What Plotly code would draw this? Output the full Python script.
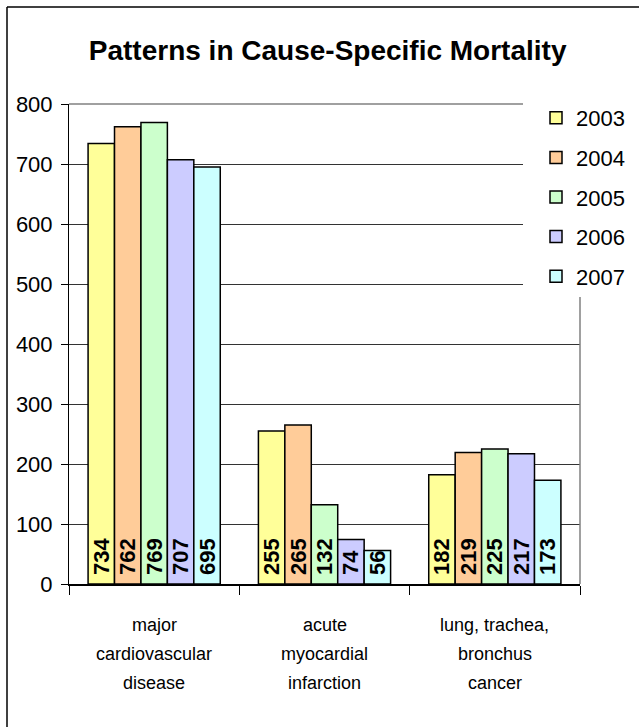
import plotly.graph_objects as go

categories = ["major cardiovascular disease", "acute myocardial infarction", "lung, trachea, bronchus cancer"]
category_lines = [
    ["major", "cardiovascular", "disease"],
    ["acute", "myocardial", "infarction"],
    ["lung, trachea,", "bronchus", "cancer"],
]
years = ["2003", "2004", "2005", "2006", "2007"]
values_2003 = [734, 255, 182]
values_2004 = [762, 265, 219]
values_2005 = [769, 132, 225]
values_2006 = [707, 74, 217]
values_2007 = [695, 56, 173]
series = [values_2003, values_2004, values_2005, values_2006, values_2007]
colors = ["#FFFF99", "#FFCC99", "#CCFFCC", "#CCCCFF", "#CCFFFF"]
y_ticks = [0, 100, 200, 300, 400, 500, 600, 700, 800]

FONT = "Liberation Sans, Arial, sans-serif"
W, H = 639, 727
L, R, T, B = 69, 59, 104, 143
pw, ph = W - L - R, H - T - B


def px_x(p):
    return (p - L) / pw


def px_y(p):
    return (H - B - p) / ph


fig = go.Figure()
for i, (yr, vals) in enumerate(zip(years, series)):
    fig.add_trace(go.Bar(
        x=categories, y=vals, name=yr,
        marker=dict(color=colors[i], line=dict(color="black", width=1.5)),
        text=["\u00a0" + str(v) for v in vals],
        textposition="inside", insidetextanchor="start", textangle=-90,
        textfont=dict(family=FONT, size=22, color="black", weight="bold"),
        legendgroup=yr,
    ))

annotations = []
for cat, lines in zip(categories, category_lines):
    for j, line in enumerate(lines):
        annotations.append(dict(
            x=cat, xref="x", y=0, yref="y", yanchor="top", yshift=-(29 + 29 * j),
            text=line, showarrow=False,
            font=dict(family=FONT, size=18, color="black"),
        ))

shapes = [
    # white area behind legend
    dict(type="rect", xref="paper", yref="paper", x0=px_x(523), x1=px_x(584),
         y0=px_y(297), y1=px_y(100), fillcolor="white", line=dict(width=0), layer="above"),
    # plot area right border
    dict(type="line", xref="paper", yref="paper", x0=1, x1=1, y0=0, y1=px_y(297),
         line=dict(color="#808080", width=1.5)),
    # plot area top border
    dict(type="line", xref="paper", yref="paper", x0=0, x1=px_x(523), y0=1, y1=1,
         line=dict(color="#808080", width=1.5)),
    # outer chart border (left and top)
    dict(type="line", xref="paper", yref="paper", x0=px_x(7), x1=px_x(7), y0=px_y(7), y1=px_y(H + 5),
         line=dict(color="black", width=1.5)),
    dict(type="line", xref="paper", yref="paper", x0=px_x(7), x1=px_x(W + 5), y0=px_y(7), y1=px_y(7),
         line=dict(color="black", width=1.5)),
]

fig.update_layout(
    width=W, height=H,
    margin=dict(l=L, r=R, t=T, b=B, pad=0, autoexpand=False),
    paper_bgcolor="white", plot_bgcolor="white",
    barmode="group", bargap=0.224, bargroupgap=0,
    uniformtext=dict(minsize=22, mode="show"),
    title=dict(text="<b>Patterns in Cause-Specific Mortality</b>", x=px_x(331), xanchor="center",
               y=1 - 50 / H, yanchor="middle",
               font=dict(family=FONT, size=28, color="black")),
    font=dict(family=FONT, color="black"),
    legend=dict(x=px_x(536), y=px_y(97), xanchor="left", yanchor="top",
                bgcolor="rgba(0,0,0,0)", font=dict(family=FONT, size=22, color="black"),
                tracegroupgap=8, traceorder="grouped"),
    annotations=annotations,
    shapes=shapes,
    showlegend=True,
)
fig.update_yaxes(range=[0, 800], tickvals=y_ticks, ticks="outside", ticklen=7, tickcolor="black",
                 showline=True, linecolor="black", linewidth=1,
                 showgrid=True, gridcolor="#333333", gridwidth=1, zeroline=False,
                 tickfont=dict(family=FONT, size=22, color="black"), ticklabelstandoff=4,
                 automargin=False)
fig.update_xaxes(showticklabels=False, ticks="outside", tickson="boundaries", ticklen=9,
                 tickcolor="black", showline=True, linecolor="black", linewidth=1.5,
                 showgrid=False, zeroline=False, automargin=False)

fig.write_html("out.html", config={"displayModeBar": False},
               post_script="document.body.style.margin='0';")
